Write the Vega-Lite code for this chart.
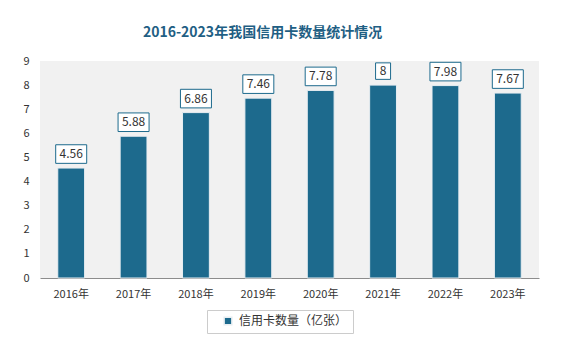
{
  "$schema": "https://vega.github.io/schema/vega-lite/v6.json",
  "width": 499,
  "height": 217,
  "autosize": {"type": "none"},
  "padding": {"left": 40, "top": 61, "right": 26, "bottom": 74},
  "background": "white",
  "title": {
    "text": "2016-2023年我国信用卡数量统计情况",
    "anchor": "middle",
    "frame": "group",
    "dx": -27,
    "offset": 15,
    "font": "Noto Sans CJK SC",
    "fontSize": 14,
    "fontWeight": "bold",
    "color": "#1f5f84"
  },
  "config": {
    "view": {"fill": "#f1f1f1", "stroke": null},
    "font": "Noto Sans CJK SC"
  },
  "data": {
    "values": [
      {"year": "2016年", "value": 4.56, "label": "4.56", "series": "信用卡数量（亿张）"},
      {"year": "2017年", "value": 5.88, "label": "5.88", "series": "信用卡数量（亿张）"},
      {"year": "2018年", "value": 6.86, "label": "6.86", "series": "信用卡数量（亿张）"},
      {"year": "2019年", "value": 7.46, "label": "7.46", "series": "信用卡数量（亿张）"},
      {"year": "2020年", "value": 7.78, "label": "7.78", "series": "信用卡数量（亿张）"},
      {"year": "2021年", "value": 8, "label": "8", "series": "信用卡数量（亿张）"},
      {"year": "2022年", "value": 7.98, "label": "7.98", "series": "信用卡数量（亿张）"},
      {"year": "2023年", "value": 7.67, "label": "7.67", "series": "信用卡数量（亿张）"}
    ]
  },
  "encoding": {
    "x": {
      "field": "year",
      "type": "nominal",
      "sort": null,
      "scale": {"paddingInner": 0.57, "paddingOuter": 0.285},
      "axis": {
        "title": null,
        "labelAngle": 0,
        "ticks": false,
        "domainColor": "#8c8c8c",
        "labelPadding": 10,
        "labelFontSize": 11,
        "labelColor": "#333333",
        "labelFont": "Noto Sans CJK SC"
      }
    },
    "y": {
      "field": "value",
      "type": "quantitative",
      "scale": {"domain": [0, 9]},
      "axis": {
        "title": null,
        "values": [0, 1, 2, 3, 4, 5, 6, 7, 8, 9],
        "grid": false,
        "domain": false,
        "ticks": false,
        "labelPadding": 11,
        "labelFontSize": 11,
        "labelColor": "#333333"
      }
    }
  },
  "layer": [
    {
      "mark": {"type": "bar", "stroke": "#e8eef2", "strokeWidth": 1},
      "encoding": {
        "color": {
          "field": "series",
          "type": "nominal",
          "scale": {"range": ["#1d6a8d"]},
          "legend": {
            "title": null,
            "orient": "none",
            "legendX": 167,
            "legendY": 249,
            "symbolType": "square",
            "symbolSize": 60,
            "symbolOffset": 10,
            "labelFontSize": 12,
            "labelColor": "#333333",
            "strokeColor": "#cccccc",
            "padding": 5,
            "labelOffset": 5
          }
        }
      }
    },
    {
      "mark": {"type": "point", "filled": true, "fill": "white", "stroke": "#1d6a8d", "strokeWidth": 1, "opacity": 1, "yOffset": -14},
      "encoding": {
        "shape": {
          "condition": {"test": "datum.value == 8", "value": "M-1,-1.1H1V1.1H-1Z"},
          "value": "M-1,-0.6H1V0.6H-1Z"
        },
        "size": {
          "condition": {"test": "datum.value == 8", "value": 225},
          "value": 961
        }
      }
    },
    {
      "mark": {"type": "text", "yOffset": -14, "baseline": "middle", "fontSize": 12, "color": "#333333"},
      "encoding": {"text": {"field": "label"}}
    }
  ]
}
